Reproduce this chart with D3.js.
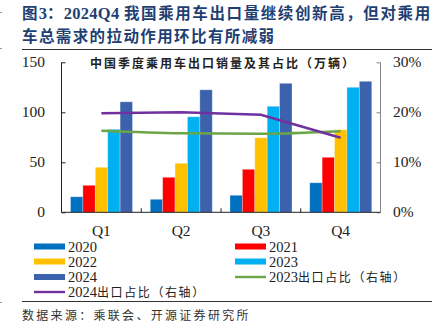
<!DOCTYPE html>
<html>
<head>
<meta charset="utf-8">
<script src="https://cdn.jsdelivr.net/npm/d3@7"></script>
<style>
  body { margin: 0; background: #fff; }
  svg { display: block; }
  .serif { font-family: "Liberation Serif", "Times New Roman", "DejaVu Serif", serif; }
  .cjk { font-family: "Noto Sans CJK SC", sans-serif; }
</style>
</head>
<body>
<svg width="440" height="329"></svg>
<script>
const svg = d3.select("svg");

// data
const quarters = ["Q1", "Q2", "Q3", "Q4"];
const years = ["2020", "2021", "2022", "2023", "2024"];
const v2020 = [15.5, 13, 17, 29.5];
const v2021 = [27, 35, 43, 55];
const v2022 = [45, 49, 74.5, 82.5];
const v2023 = [83, 95.5, 106, 125];
const v2024 = [110.5, 122.5, 129, 131];
const share2023 = [0.163, 0.158, 0.157, 0.162];
const share2024 = [0.198, 0.2, 0.195, 0.149];
const leftTicks = [0, 50, 100, 150];
const rightTicks = [0, 0.1, 0.2, 0.3];

const barColors = ["#0070C0", "#FF0000", "#FFC000", "#00B0F0", "#3D62AD"];
const green = "#6AA645", purple = "#7030A0";

const series = [v2020, v2021, v2022, v2023, v2024];

const x0 = d3.scaleBand().domain(quarters).range([61.5, 380.5]);
const x1 = d3.scaleBand().domain(years).range([9, 71]);
const y = d3.scaleLinear().domain([0, 150]).range([212.3, 62.3]);
const y2 = d3.scaleLinear().domain([0, 0.3]).range([212.3, 62.3]);

// title
const title = svg.append("g")
    .attr("fill", "#1F3F73")
    .attr("font-weight", "bold")
    .attr("font-size", "15.5px");
const t1 = title.append("text").attr("x", 22).attr("y", 18.5);
t1.append("tspan").attr("class", "cjk").attr("letter-spacing", "1.2px").text("图");
t1.append("tspan").attr("class", "serif").attr("font-size", "16.5px").text("3");
t1.append("tspan").attr("class", "cjk").attr("letter-spacing", "1.2px").text("：");
t1.append("tspan").attr("class", "serif").attr("font-size", "16.5px").attr("letter-spacing", "0.3px").text("2024Q4 ");
t1.append("tspan").attr("class", "cjk").attr("letter-spacing", "1.6px").text("我国乘用车出口量继续创新高，但对乘用");
title.append("text").attr("x", 22).attr("y", 41.5)
    .attr("class", "cjk")
    .attr("letter-spacing", "1.4px")
    .text("车总需求的拉动作用环比有所减弱");

// frame rules
svg.append("line").attr("x1", 22).attr("x2", 432).attr("y1", 49.5).attr("y2", 49.5)
    .attr("stroke", "#333").attr("stroke-width", 1.2);
svg.append("line").attr("x1", 22).attr("x2", 432).attr("y1", 301.5).attr("y2", 301.5)
    .attr("stroke", "#333").attr("stroke-width", 1.2);

// bars
const grp = svg.append("g").selectAll("g")
  .data(quarters)
  .join("g")
    .attr("transform", d => `translate(${x0(d)},0)`);

grp.selectAll("rect")
  .data((q, qi) => years.map((yr, i) => ({yr, i, v: series[i][qi]})))
  .join("rect")
    .attr("x", d => x1(d.yr))
    .attr("width", x1.bandwidth())
    .attr("y", d => y(d.v))
    .attr("height", d => y(0) - y(d.v))
    .attr("fill", d => barColors[d.i])
    .attr("stroke", "#fff")
    .attr("stroke-opacity", 0.35)
    .attr("stroke-width", 0.8);

// lines
const cx = q => x0(q) + x0.bandwidth() / 2;

svg.append("path").datum(share2023)
    .attr("d", d3.line().x((d, i) => cx(quarters[i])).y(d => y2(d)).curve(d3.curveMonotoneX))
    .attr("fill", "none").attr("stroke", green).attr("stroke-width", 2.5);
svg.append("path").datum(share2024)
    .attr("d", d3.line().x((d, i) => cx(quarters[i])).y(d => y2(d)))
    .attr("fill", "none").attr("stroke", purple).attr("stroke-width", 2.5);

// axes
const leftAxis = svg.append("g")
    .attr("transform", "translate(61.5,0)")
    .call(d3.axisRight(y).tickValues(leftTicks).tickSize(4).tickFormat(""));
leftAxis.select(".domain").attr("d", `M0,${y(0)}V${y(150)}`).attr("stroke", "#222");
leftAxis.selectAll(".tick line").attr("stroke", "#222");

const rightAxis = svg.append("g")
    .attr("transform", "translate(380.5,0)")
    .call(d3.axisLeft(y2).tickValues(rightTicks).tickSize(4).tickFormat(""));
rightAxis.select(".domain").attr("d", `M0,${y2(0)}V${y2(0.3)}`).attr("stroke", "#888");
rightAxis.selectAll(".tick line").attr("stroke", "#888");

const bottom = svg.append("g")
    .attr("transform", `translate(0,${y(0)})`)
    .call(d3.axisTop(x0).tickSize(0).tickFormat(""));
bottom.select(".domain").attr("d", "M61.5,0H380.5").attr("stroke", "#222");
bottom.selectAll(".sep")
  .data(quarters.slice(1))
  .join("line")
    .attr("class", "sep")
    .attr("x1", d => x0(d)).attr("x2", d => x0(d))
    .attr("y1", 0).attr("y2", -4)
    .attr("stroke", "#222");

// tick labels
svg.append("g").selectAll("text")
  .data(leftTicks)
  .join("text")
    .attr("class", "serif")
    .attr("x", 45).attr("y", d => y(d) + 5)
    .attr("text-anchor", "end")
    .attr("font-size", "15.5px").attr("fill", "#222")
    .text(d => d);

svg.append("g").selectAll("text")
  .data(rightTicks)
  .join("text")
    .attr("class", "serif")
    .attr("x", 393).attr("y", d => y2(d) + 5)
    .attr("font-size", "15.5px").attr("fill", "#222")
    .text(d => d3.format(".0%")(d));

svg.append("g").selectAll("text")
  .data(quarters)
  .join("text")
    .attr("class", "serif")
    .attr("x", d => cx(d)).attr("y", 235.5)
    .attr("text-anchor", "middle")
    .attr("font-size", "15.5px").attr("fill", "#222")
    .text(d => d);

// chart subtitle
svg.append("text")
    .attr("class", "cjk")
    .attr("x", 223).attr("y", 67.5)
    .attr("text-anchor", "middle")
    .attr("font-weight", "bold").attr("font-size", "12px")
    .attr("letter-spacing", "2px").attr("fill", "#222")
    .text("中国季度乘用车出口销量及其占比（万辆）");

// legend
const legendItems = [
  {label: "2020", color: barColors[0], type: "bar", col: 0, row: 0},
  {label: "2021", color: barColors[1], type: "bar", col: 1, row: 0},
  {label: "2022", color: barColors[2], type: "bar", col: 0, row: 1},
  {label: "2023", color: barColors[3], type: "bar", col: 1, row: 1},
  {label: "2024", color: barColors[4], type: "bar", col: 0, row: 2},
  {label: "2023", suffix: "出口占比（右轴）", color: green, type: "line", col: 1, row: 2},
  {label: "2024", suffix: "出口占比（右轴）", color: purple, type: "line", col: 0, row: 3}
];
const lx = [34, 235], ly = [246.5, 261.5, 277, 292];

const lg = svg.append("g").selectAll("g")
  .data(legendItems)
  .join("g")
    .attr("transform", d => `translate(${lx[d.col]},${ly[d.row]})`);

lg.append("rect")
    .attr("x", 0).attr("width", 31)
    .attr("y", d => d.type === "bar" ? -3 : -1.2)
    .attr("height", d => d.type === "bar" ? 6 : 2.4)
    .attr("fill", d => d.color);

const lt = lg.append("text")
    .attr("x", 34).attr("y", 5.2)
    .attr("font-size", "14.5px").attr("fill", "#222");
lt.append("tspan").attr("class", "serif").text(d => d.label);
lt.filter(d => d.suffix).append("tspan")
    .attr("class", "cjk")
    .attr("font-size", "12px").attr("letter-spacing", "1.6px")
    .text(d => d.suffix);

// source
svg.append("text")
    .attr("class", "cjk")
    .attr("x", 22).attr("y", 320)
    .attr("font-size", "12px").attr("letter-spacing", "2.3px").attr("fill", "#333")
    .text("数据来源：乘联会、开源证券研究所");

// small margin marks
svg.append("g").selectAll("rect")
  .data([12, 48, 302])
  .join("rect")
    .attr("x", 0).attr("y", d => d).attr("width", 2).attr("height", 1)
    .attr("fill", "#999");
</script>
</body>
</html>
